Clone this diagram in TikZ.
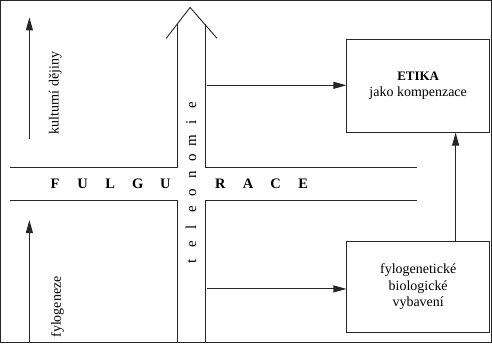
\documentclass[tikz,border=0pt]{standalone}
\usepackage{fontspec}
\setmainfont{Liberation Serif}
\usetikzlibrary{arrows.meta}
\newcommand{\tslot}[1]{\makebox[17.4pt]{#1}}
\newcommand{\fslot}[1]{\makebox[27.6pt]{#1}}
\begin{document}
\begin{tikzpicture}[x=1pt,y=-1pt,
  line width=0.9pt,
  every path/.style={draw=black!85},
  arr/.style={-{Triangle[length=13pt,width=7pt]}},
  box/.style={draw=black!85, line width=0.9pt, minimum width=143pt, align=center, font=\fontsize{14}{16.5}\selectfont},
  lbl/.style={font=\fontsize{14}{16}\selectfont, inner sep=0pt}]
\useasboundingbox (0,0) rectangle (492,343);
% bands
\draw (10,167) -- (177,167) -- (177,24);
\draw (166,38) -- (190,7) -- (217,38);
\draw (205,24) -- (205,167) -- (417,167);
\draw (10,200) -- (177,200) -- (177,343);
\draw (205,343) -- (205,200) -- (417,200);
% boxes
\node[box, minimum height=93pt] (etika) at (418.5,85.5) {{\fontsize{13}{16.5}\selectfont\bfseries ETIKA}\\jako kompenzace};
\node[box, minimum height=92pt] (fylo) at (418.5,287) {fylogenetické\\biologické\\vybavení};
% connectors
\coordinate (a1) at (207,85);
\coordinate (b1) at (207,289);
\coordinate (c1) at (456,0);
\draw[arr] (a1) -- (a1 -| etika.west);
\draw[arr] (b1) -- (b1 -| fylo.west);
\draw[arr] (fylo.north -| c1) -- (etika.south -| c1);
% left arrows
\coordinate (k0) at (29,139);
\coordinate (k1) at (29,17);
\coordinate (f0) at (29,343);
\coordinate (f1) at (29,220);
\draw[arr] (k0) -- (k1);
\draw[arr] (f0) -- (f1);
\node[lbl, rotate=90] (kd) at (55,93) {kulturní dějiny};
\node[lbl, rotate=90] (fg) at (57,307) {fylogeneze};
% band texts
\node[lbl, font=\fontsize{14.5}{16}\bfseries] (fulg) at (179,184) {\fslot{F}\fslot{U}\fslot{L}\fslot{G}\fslot{U}\fslot{}\fslot{R}\fslot{A}\fslot{C}\fslot{E}};
\node[lbl, rotate=90, font=\fontsize{15}{16}\selectfont] (tel) at (191,183.5) {\tslot{t}\tslot{e}\tslot{l}\tslot{e}\tslot{o}\tslot{n}\tslot{o}\tslot{m}\tslot{i}\tslot{e}};
\end{tikzpicture}
\end{document}
